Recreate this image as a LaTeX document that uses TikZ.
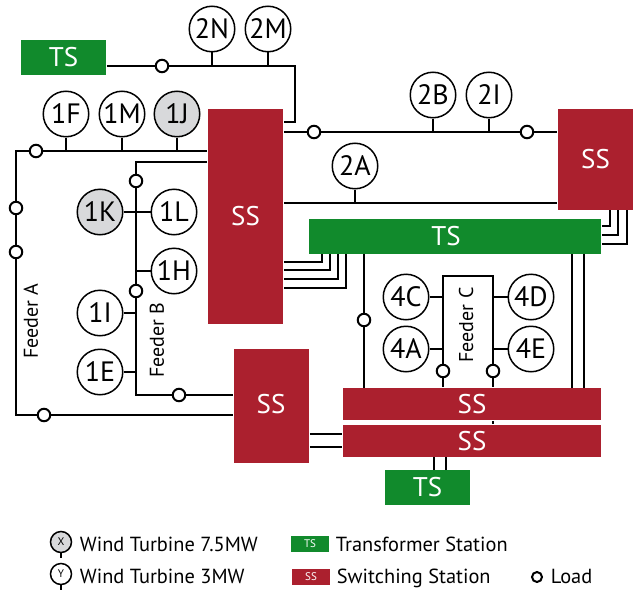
\documentclass[tikz,border=0pt]{standalone}
\usepackage{fontspec}
\setmainfont{PT Sans}
\definecolor{tsgreen}{RGB}{17,138,44}
\definecolor{ssred}{RGB}{171,32,46}
\definecolor{wtgrey}{RGB}{216,217,219}
\tikzset{
    x=1pt, y=-1pt,
    every path/.style={line width=1.8pt, line join=miter},
    wind/.style={circle, draw, fill=white, line width=1.5pt, minimum size=45.5pt, inner sep=0pt, font=\fontsize{28}{28}\selectfont},
    windbig/.style={wind, fill=wtgrey},
    load/.style={circle, draw, fill=white, line width=2pt, minimum size=12.5pt, inner sep=0pt},
    ts/.style={fill=tsgreen, text=white, inner sep=0pt, font=\fontsize{27}{27}\selectfont},
    ss/.style={fill=ssred, text=white, inner sep=0pt, font=\fontsize{27}{27}\selectfont},
    feeder/.style={rotate=90, font=\fontsize{20}{20}\selectfont},
    legend/.style={anchor=base west, inner sep=0pt, font=\fontsize{20.4}{20.4}\selectfont},
}
\begin{document}
\begin{tikzpicture}
\useasboundingbox (0,0) rectangle (644,591);
% stations
\node[ts, minimum width=85pt, minimum height=35pt] (tsa) at (63.5,57.5) {TS};
\node[ts, minimum width=292pt, minimum height=35pt] (tsb) at (455,236.5) {};
\node[ts, minimum width=85pt, minimum height=35pt] (tsc) at (427.5,487.5) {TS};
\node[ss, minimum width=75pt, minimum height=215pt] (ssa) at (245.5,216.5) {SS};
\node[ss, minimum width=75pt, minimum height=101pt] (ssb) at (595.5,159.5) {SS};
\node[ss, minimum width=75pt, minimum height=114pt] (ssc) at (271.5,406) {};
\node[ss, minimum width=258pt, minimum height=32pt] (ssd) at (472,404) {SS};
\node[ss, minimum width=258pt, minimum height=32pt] (sse) at (472,441) {SS};
\node[text=white, font=\fontsize{27}{27}\selectfont, inner sep=0pt] (tsbtext) at (446,236.5) {TS};
\node[text=white, font=\fontsize{27}{27}\selectfont, inner sep=0pt] (ssctext) at (271,404) {SS};
% corners of the lines
\coordinate (cnra) at (295,66);
\coordinate (cnrb) at (295,122);
\coordinate (cnrc) at (16,151);
\coordinate (cnrd) at (16,415);
\coordinate (cnre) at (136,162);
\coordinate (cnrf) at (136,395);
\coordinate (cnrg) at (443,276);
\coordinate (cnrh) at (493,276);
% wind turbines
\foreach \name/\x/\y in {2N/212/29, 2M/268/29, 1F/66/114, 1M/122/114, 2B/433/95, 2I/489/95, 2A/355/166,
    1L/174/212, 1H/174/271, 1I/100/313, 1E/100/372, 4C/406/297, 4A/406/349, 4D/531/297, 4E/531/349}
    \node[wind] (\name) at (\x,\y) {\name};
\foreach \name/\x/\y in {1J/177/114, 1K/100/212}
    \node[windbig] (\name) at (\x,\y) {\name};
% feeders
\draw (tsa.east |- 0,66) -- (cnra) -- (cnrb) -- (ssa.east |- cnrb);
\draw (2N) -- (2N |- cnra);
\draw (2M) -- (2M |- cnra);
\draw (ssa.east |- 0,132) -- (ssb.west |- 0,132);
\draw (2B) -- (2B |- 0,132);
\draw (2I) -- (2I |- 0,132);
\draw (ssa.east |- 0,203) -- (ssb.west |- 0,203);
\draw (2A) -- (2A |- 0,203);
\draw (ssa.west |- cnrc) -- (cnrc) -- (cnrd) -- (ssc.west |- cnrd);
\draw (1F) -- (1F |- cnrc);
\draw (1M) -- (1M |- cnrc);
\draw (1J) -- (1J |- cnrc);
\draw (ssa.west |- cnre) -- (cnre) -- (cnrf) -- (ssc.west |- cnrf);
\draw (1K) -- (1L);
\draw (1H) -- (1H -| cnre);
\draw (1I) -- (1I -| cnre);
\draw (1E) -- (1E -| cnre);
\draw (cnrg |- ssd.north) -- (cnrg) -- (cnrh) -- (cnrh |- ssd.north);
\draw (cnrh |- ssd.south) -- (cnrh |- sse.north);
\draw (4C) -- (4C -| cnrg);
\draw (4A) -- (4A -| cnrg);
\draw (4D) -- (4D -| cnrh);
\draw (4E) -- (4E -| cnrh);
% links between stations
\foreach \x/\y in {322/262, 330/270, 338/279, 346/288}
    \draw (ssa.east |- 0,\y) -- (\x,\y) -- (\x,254);
\foreach \x/\y in {610/226, 618/235, 627/244}
    \draw (tsb.east |- 0,\y) -- (\x,\y) -- (\x,210);
\foreach \x in {364, 572, 584}
    \draw (\x,254) -- (\x,388);
\foreach \y in {434, 447}
    \draw (ssc.east |- 0,\y) -- (sse.west |- 0,\y);
\foreach \x in {434, 446}
    \draw (\x,457) -- (\x,470);
% loads
\foreach \name/\x/\y in {la/162/66, lb/314/132, lc/527/132, ld/36/151, le/16/208, lf/16/252, lg/44/415,
    lh/136/181, li/136/291, lj/179/395, lk/364/320, ll/443/371, lm/493/371}
    \node[load] (\name) at (\x,\y) {};
% feeder names
\node[feeder] (fa) at (31,321) {Feeder A};
\node[feeder] (fb) at (157,340) {Feeder B};
\node[feeder] (fc) at (466,325) {Feeder C};
% legend
\node[windbig, minimum size=21pt, font=\fontsize{11}{11}\selectfont] (lgx) at (61,542) {X};
\node[wind, minimum size=21pt, font=\fontsize{11}{11}\selectfont] (lgy) at (61,574) {Y};
\coordinate (lgxend) at (61,558);
\coordinate (lgyend) at (61,590);
\draw (lgx) -- (lgxend);
\draw (lgy) -- (lgyend);
\node[legend] (lgxt) at (79,551) {Wind Turbine 7.5MW};
\node[legend] (lgyt) at (79,583) {Wind Turbine 3MW};
\node[ts, minimum width=38pt, minimum height=16pt, font=\fontsize{11}{11}\selectfont] (lgts) at (310,544) {TS};
\node[ss, minimum width=38pt, minimum height=16pt, font=\fontsize{11}{11}\selectfont] (lgss) at (311,577) {SS};
\node[legend] (lgtst) at (335,551) {Transformer Station};
\node[legend] (lgsst) at (336,583) {Switching Station};
\node[load, minimum size=10pt] (lgl) at (537,577) {};
\node[legend] (lglt) at (550,583) {Load};
\end{tikzpicture}
\end{document}
